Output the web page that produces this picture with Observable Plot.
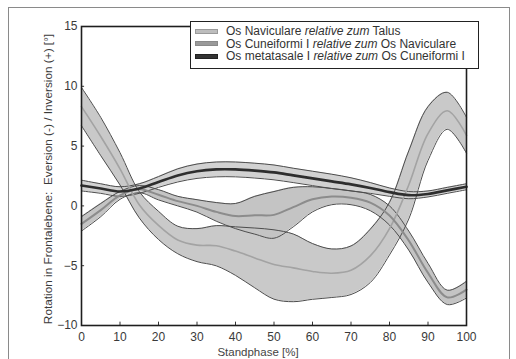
<!DOCTYPE html>
<html>
<head>
<meta charset="utf-8">
<script src="https://cdn.jsdelivr.net/npm/d3@7"></script>
<script src="https://cdn.jsdelivr.net/npm/@observablehq/plot@0.6"></script>
<style>
  html, body { margin: 0; padding: 0; background: #fff; overflow: hidden; }
  #wrap { position: relative; width: 516px; height: 359px; font-family: "Liberation Sans", Arial, sans-serif; }
  #border { position: absolute; left: 8px; top: 7px; width: 502px; height: 352px; border: 1px solid #8a8a8a; border-bottom: none; box-sizing: border-box; pointer-events: none; }
  #legend { position: absolute; left: 190px; top: 21px; width: 289px; height: 48px; box-sizing: border-box;
            border: 1.5px solid #222; background: #fff; font-size: 12px; color: #333; padding-top: 3px; }
  .row { height: 12.6px; line-height: 12.6px; white-space: nowrap; display: flex; align-items: center; }
  .sw { width: 23px; height: 5px; margin-left: 4px; margin-right: 8px; box-sizing: border-box; }
  #xlabel { position: absolute; left: 0; width: 516px; top: 346px; text-align: center; font-size: 11.5px; line-height: 12px; color: #444; }
</style>
</head>
<body>
<div id="wrap">
  <div id="chart"></div>
  <div id="border"></div>
  <div id="legend"></div>
  <div id="xlabel">Standphase [%]</div>
</div>
<script>
// ---- data ----
const stance = [0, 5, 10, 15, 20, 25, 30, 35, 40, 45, 50, 55, 60, 65, 70, 75, 80, 85, 90, 95, 100];

// Os Naviculare relative zum Talus
const navMean = [8.3, 5.8, 3.1, 0.1, -1.63, -2.85, -3.28, -3.33, -3.78, -4.35, -4.9, -5.18, -5.48, -5.63, -5.38, -4.18, -1.9, 1.75, 6.05, 7.95, 5.9];
const navSd   = [1.6, 1.6, 1.35, 1.1, 1.18, 1.15, 1.38, 1.68, 2.03, 2.5, 2.9, 2.83, 2.33, 2.03, 2.03, 2.23, 2.2, 2.85, 2.25, 1.55, 1.5];

// Os Cuneiformi I relative zum Os Naviculare
const cunMean = [-1.5, -0.35, 0.88, 1.4, 0.93, 0.4, 0.0, -0.5, -0.85, -0.78, -0.75, -0.1, 0.55, 0.78, 0.68, 0.28, -0.8, -2.9, -5.6, -7.65, -7.0];
const cunSd   = [0.6, 0.55, 0.33, 0.3, 0.43, 0.4, 0.52, 0.78, 1.05, 1.58, 1.95, 1.65, 1.05, 0.68, 0.58, 0.68, 0.8, 0.8, 0.8, 0.6, 0.7];

// Os metatasale I relative zum Os Cuneiformi I
const metMean = [1.7, 1.45, 1.2, 1.45, 2.0, 2.55, 2.9, 3.05, 3.05, 2.95, 2.8, 2.55, 2.3, 2.05, 1.8, 1.5, 1.15, 0.9, 1.0, 1.3, 1.6];
const metSd   = [0.45, 0.4, 0.4, 0.4, 0.45, 0.55, 0.6, 0.62, 0.62, 0.62, 0.62, 0.6, 0.6, 0.6, 0.55, 0.45, 0.35, 0.3, 0.25, 0.25, 0.25];

const xTicks = [0, 10, 20, 30, 40, 50, 60, 70, 80, 90, 100];
const yTicks = [-10, -5, 0, 5, 10, 15];

const seriesNames = ["Os Naviculare", "Os Cuneiformi I", "Os metatasale I"];
const seriesRefs  = ["Talus", "Os Naviculare", "Os Cuneiformi I"];

// ---- build tables ----
function rows(mean, sd) {
  return stance.map((x, i) => ({x, m: mean[i], lo: mean[i] - sd[i], hi: mean[i] + sd[i]}));
}
const nav = rows(navMean, navSd);
const cun = rows(cunMean, cunSd);
const met = rows(metMean, metSd);

const curve = "catmull-rom";
const edge = "#4d4d4d";

const styles = [
  {data: nav, fill: "#c9c9c9", mean: "#a3a3a3", mw: 1.6},
  {data: cun, fill: "#c4c4c4", mean: "#8c8c8c", mw: 2},
  {data: met, fill: "#d2d2d2", mean: "#2e2e2e", mw: 2.6}
];

const marks = [];
for (const s of styles) {
  marks.push(Plot.areaY(s.data, {x: "x", y1: "lo", y2: "hi", fill: s.fill, curve}));
}
for (const s of styles) {
  marks.push(Plot.line(s.data, {x: "x", y: "hi", stroke: edge, strokeWidth: 1, curve}));
  marks.push(Plot.line(s.data, {x: "x", y: "lo", stroke: edge, strokeWidth: 1, curve}));
}
for (const s of styles) {
  marks.push(Plot.line(s.data, {x: "x", y: "m", stroke: s.mean, strokeWidth: s.mw, curve}));
}
// inward ticks
marks.push(Plot.ruleX(xTicks, {x: d => d, y1: -10, y2: -9.72, stroke: "#333", strokeWidth: 1}));
marks.push(Plot.ruleY(yTicks, {y: d => d, x1: 0, x2: 0.8, stroke: "#333", strokeWidth: 1}));
marks.push(Plot.frame({stroke: "#1e1e1e", strokeWidth: 1.6}));

const chart = Plot.plot({
  width: 516,
  height: 359,
  marginLeft: 81,
  marginRight: 50,
  marginTop: 26,
  marginBottom: 34,
  style: {fontFamily: "'Liberation Sans', Arial, sans-serif", fontSize: "12px", color: "#3a3a3a", background: "transparent"},
  x: {domain: [0, 100], ticks: xTicks, tickSize: 0, tickPadding: 7, label: null},
  y: {domain: [-10, 15], ticks: yTicks, tickSize: 0, tickPadding: 4, label: null},
  marks
});
document.getElementById("chart").appendChild(chart);

// y-axis title
d3.select(chart).append("text")
  .attr("transform", "translate(52,179) rotate(-90)")
  .attr("text-anchor", "middle")
  .attr("fill", "#3a3a3a")
  .style("font-size", "11.8px")
  .style("white-space", "pre")
  .attr("xml:space", "preserve")
  .text("Rotation in Frontalebene:  Eversion (-) / Inversion (+) [°]");

// legend
const swatch = [
  {bg: "#bdbdbd", bd: "1px solid #9a9a9a"},
  {bg: "#9a9a9a", bd: "1px solid #8a8a8a"},
  {bg: "#333", bd: "1px solid #222"}
];
const leg = document.getElementById("legend");
seriesNames.forEach((n, i) => {
  const r = document.createElement("div");
  r.className = "row";
  const sw = document.createElement("div");
  sw.className = "sw";
  sw.style.background = swatch[i].bg;
  sw.style.border = swatch[i].bd;
  r.appendChild(sw);
  const t = document.createElement("span");
  t.innerHTML = n + " <i>relative zum</i> " + seriesRefs[i];
  r.appendChild(t);
  leg.appendChild(r);
});
</script>
</body>
</html>
